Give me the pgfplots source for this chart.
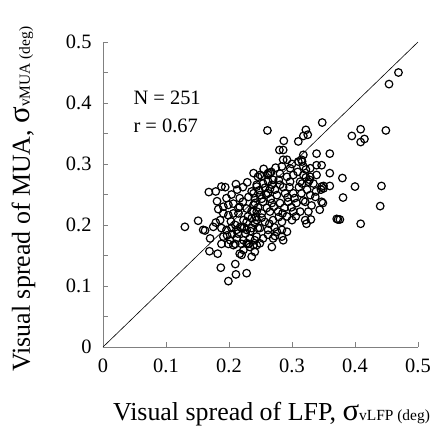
\documentclass[border=0pt]{standalone}
\usepackage{pgfplots}
\pgfplotsset{compat=1.18}
\usepackage{fontspec}
\setmainfont{Liberation Serif}
\begin{document}
\begin{tikzpicture}[x=1bp,y=1bp]
\useasboundingbox (-103bp,-90bp) rectangle (335bp,347bp);
\begin{axis}[
  at={(0,0)}, anchor=south west,
  scale only axis, width=315bp, height=305bp,
  xmin=0, xmax=0.5, ymin=0, ymax=0.5,
  axis lines=left, axis line style={gray, line width=0.9bp, -},
  xtick={0,0.1,0.2,0.3,0.4,0.5},
  ytick={0,0.1,0.2,0.3,0.4,0.5},
  minor ytick={0.05,0.15,0.25,0.35,0.45},
  xticklabels={0,0.1,0.2,0.3,0.4,0.5},
  yticklabels={0,0.1,0.2,0.3,0.4,0.5},
  tick align=inside,
  major tick length=5bp, minor tick length=5bp,
  tick style={gray, line width=0.8bp},
  ticklabel style={font=\fontsize{20.5}{20.5}\selectfont},
  xticklabel style={yshift=-8bp},
  yticklabel style={xshift=-8bp},
  clip=false,
  xlabel={Visual spread of LFP, {\fontsize{31}{31}\selectfont σ}{\fontsize{15.5}{15.5}\selectfont vLFP (deg)}},
  ylabel={Visual spread of MUA, {\fontsize{31}{31}\selectfont σ}{\fontsize{15.5}{15.5}\selectfont vMUA (deg)}},
  label style={font=\fontsize{26}{26}\selectfont},
  xlabel style={at={(axis description cs:0.535,0)}, anchor=base, yshift=-73bp},
  ylabel style={at={(axis description cs:0,0.485)}, anchor=base, yshift=73bp},
]
\addplot[black, line width=0.6bp, no marks] coordinates {(0,0) (0.5,0.5)};
\addplot[only marks, mark=o, mark size=3.8bp, mark options={line width=1.2bp, black}] table {
x y
0.469 0.450
0.454 0.431
0.409 0.357
0.395 0.346
0.415 0.341
0.409 0.336
0.449 0.355
0.380 0.277
0.400 0.263
0.442 0.264
0.381 0.245
0.440 0.231
0.409 0.202
0.376 0.209
0.360 0.285
0.350 0.264
0.360 0.264
0.349 0.236
0.373 0.209
0.261 0.355
0.348 0.368
0.322 0.356
0.318 0.346
0.325 0.348
0.310 0.337
0.287 0.338
0.280 0.323
0.286 0.323
0.318 0.315
0.339 0.317
0.360 0.317
0.286 0.307
0.292 0.307
0.315 0.307
0.339 0.298
0.347 0.298
0.297 0.293
0.329 0.293
0.270 0.274
0.249 0.282
0.328 0.274
0.346 0.258
0.371 0.210
0.323 0.202
0.330 0.209
0.292 0.214
0.285 0.219
0.273 0.182
0.284 0.181
0.262 0.184
0.249 0.170
0.228 0.170
0.310 0.304
0.316 0.304
0.318 0.296
0.322 0.291
0.262 0.282
0.130 0.197
0.151 0.207
0.159 0.192
0.162 0.191
0.170 0.178
0.169 0.157
0.182 0.153
0.187 0.130
0.210 0.136
0.211 0.119
0.228 0.121
0.199 0.108
0.220 0.151
0.236 0.148
0.188 0.169
0.199 0.169
0.210 0.169
0.220 0.169
0.231 0.169
0.244 0.167
0.168 0.254
0.179 0.255
0.188 0.263
0.194 0.262
0.211 0.267
0.181 0.239
0.246 0.279
0.262 0.285
0.267 0.287
0.191 0.230
0.199 0.233
0.207 0.235
0.217 0.244
0.231 0.246
0.236 0.255
0.179 0.204
0.186 0.208
0.175 0.197
0.191 0.219
0.199 0.216
0.207 0.219
0.215 0.219
0.188 0.195
0.196 0.192
0.204 0.195
0.212 0.192
0.220 0.195
0.228 0.192
0.236 0.195
0.191 0.181
0.202 0.175
0.212 0.178
0.223 0.175
0.233 0.178
0.241 0.175
0.207 0.167
0.223 0.159
0.233 0.164
0.217 0.153
0.241 0.156
0.228 0.205
0.236 0.211
0.241 0.203
0.223 0.208
0.217 0.230
0.228 0.227
0.239 0.233
0.244 0.222
0.241 0.244
0.244 0.263
0.239 0.285
0.252 0.280
0.265 0.285
0.281 0.284
0.292 0.279
0.302 0.282
0.318 0.282
0.329 0.279
0.339 0.282
0.297 0.271
0.313 0.271
0.326 0.271
0.334 0.268
0.347 0.263
0.350 0.260
0.244 0.266
0.254 0.268
0.268 0.266
0.281 0.266
0.239 0.252
0.249 0.249
0.262 0.252
0.276 0.249
0.289 0.252
0.302 0.252
0.315 0.252
0.329 0.249
0.337 0.246
0.347 0.238
0.241 0.236
0.254 0.238
0.268 0.236
0.281 0.236
0.294 0.238
0.307 0.236
0.321 0.238
0.313 0.222
0.326 0.222
0.344 0.225
0.239 0.222
0.252 0.219
0.265 0.222
0.278 0.222
0.302 0.222
0.244 0.208
0.257 0.205
0.270 0.208
0.284 0.205
0.300 0.208
0.321 0.208
0.249 0.195
0.262 0.192
0.276 0.189
0.292 0.189
0.244 0.181
0.254 0.178
0.270 0.178
0.284 0.192
0.286 0.175
0.239 0.167
0.268 0.164
0.183 0.226
0.196 0.244
0.204 0.250
0.213 0.258
0.222 0.262
0.229 0.270
0.203 0.206
0.210 0.200
0.218 0.197
0.226 0.186
0.234 0.190
0.246 0.195
0.252 0.212
0.260 0.228
0.266 0.243
0.273 0.258
0.279 0.274
0.286 0.262
0.293 0.245
0.299 0.229
0.306 0.214
0.311 0.262
0.318 0.240
0.324 0.258
0.331 0.232
0.338 0.255
0.257 0.261
0.262 0.272
0.271 0.230
0.279 0.213
0.288 0.228
0.296 0.262
0.304 0.244
0.309 0.287
0.316 0.268
0.322 0.278
0.246 0.229
0.252 0.243
0.259 0.250
0.264 0.202
0.272 0.196
0.215 0.228
0.222 0.238
0.230 0.214
0.236 0.223
0.243 0.213
0.248 0.257
0.255 0.292
0.274 0.294
0.284 0.296
0.300 0.300
0.205 0.185
0.214 0.186
0.197 0.183
0.224 0.196
0.265 0.259
};
\node[anchor=west, font=\fontsize{20.5}{20.5}\selectfont, align=left] at (axis cs:0.043,0.408) {N = 251};
\node[anchor=west, font=\fontsize{20.5}{20.5}\selectfont, align=left] at (axis cs:0.043,0.362) {r = 0.67};
\end{axis}
\end{tikzpicture}
\end{document}
